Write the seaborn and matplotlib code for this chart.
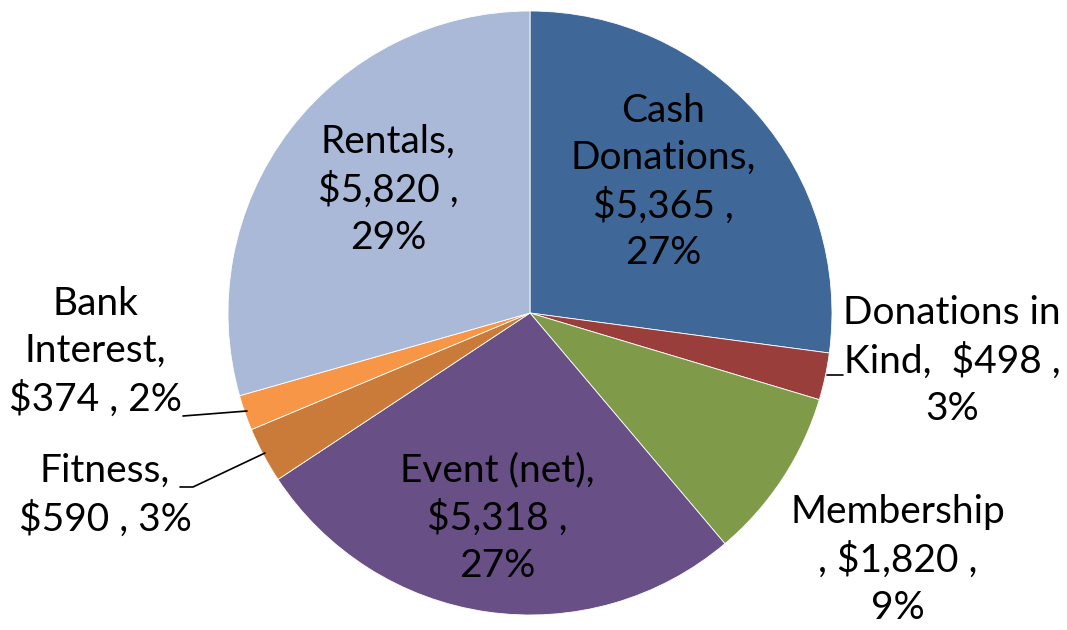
import seaborn as sns
import matplotlib.pyplot as plt

# data, clockwise from 12 o'clock
categories = ["Cash Donations", "Donations in Kind", "Membership", "Event (net)",
              "Fitness", "Bank Interest", "Rentals"]
values = [5365, 498, 1820, 5318, 590, 374, 5820]
colors = ["#3F6899", "#9A3E3C", "#7F9B4A", "#684F86", "#CB7B39", "#F79646", "#A9B9D7"]

# how excel wrapped each label
names = ["Cash\nDonations", "Donations in\nKind", "Membership", "Event (net)",
         "Fitness", "Bank\nInterest", "Rentals"]
sep0 = ["", "", "\n", "", "", "", ""]
sep1 = ["\n", "  ", " ", "\n", "\n", "\n", "\n"]
sep2 = ["\n", "\n", "\n", "\n", " ", " ", "\n"]

# label centres in pixels (x, y from top)
label_pos = [(663, 182), (952, 361), (898, 560), (497, 518), (105, 495), (95, 352), (388, 190)]

sns.set_theme(style="white")
plt.rcParams['font.family'] = ['Lato', 'DejaVu Sans']

W, H = 1067, 630
cx, cy, r = 530, 313, 302

fig = plt.figure(figsize=(W / 100, H / 100), dpi=100)
ax = fig.add_axes([0, 0, 1, 1])

ax.pie(values, colors=colors, startangle=90, counterclock=False, radius=1,
       wedgeprops=dict(edgecolor='white', linewidth=0.6))

# pie() resets limits, so set them afterwards
ax.set_xlim(-cx / r, (W - cx) / r)
ax.set_ylim(-(H - cy) / r, cy / r)
ax.set_aspect('equal')
ax.axis('off')

def px(x, y):
    return (x - cx) / r, (cy - y) / r

total = sum(values)
for i, v in enumerate(values):
    pct = round(v / total * 100)
    txt = f"{names[i]}{sep0[i]},{sep1[i]}${v:,} ,{sep2[i]}{pct}%"
    x, y = px(*label_pos[i])
    ax.text(x, y, txt, ha='center', va='center', fontsize=28, linespacing=1.38, color='black')

# leader lines
leaders = [
    [(827, 375), (843, 375)],
    [(183, 416), (247, 411)],
    [(180, 487), (193, 487), (265, 453)],
]
for pts in leaders:
    xs, ys = zip(*[px(*p) for p in pts])
    ax.plot(xs, ys, color='black', lw=1.2)

fig.savefig("out.png", dpi=100)
